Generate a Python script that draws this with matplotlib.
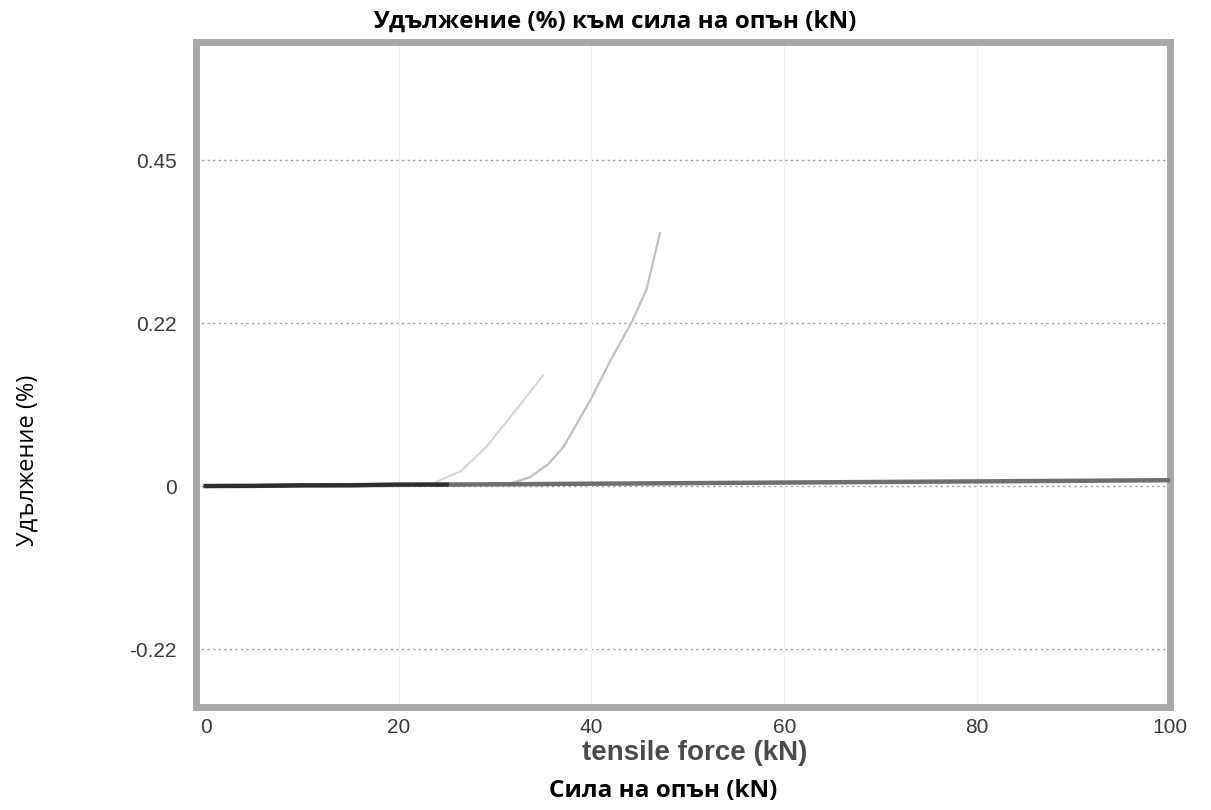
import matplotlib.pyplot as plt
import numpy as np

# data
base_x = [0, 25, 50, 75, 100]
base_y = [0.0, 0.002, 0.004, 0.006, 0.008]
early_x = [0, 5, 10, 15, 20, 25]
early_y = [0.0, 0.0, 0.001, 0.001, 0.002, 0.002]

curve1_x = [23.5, 24.6, 26.4, 29.1, 32.3, 35.0]
curve1_y = [0.003, 0.010, 0.020, 0.054, 0.107, 0.153]
curve2_x = [31.5, 33.6, 35.5, 37.1, 39.9, 42.0, 44.2, 45.7, 47.1]
curve2_y = [0.003, 0.012, 0.030, 0.054, 0.119, 0.174, 0.227, 0.271, 0.349]

xticks = [0, 20, 40, 60, 80, 100]
yticks = [-0.225, 0, 0.225, 0.45]
ytick_labels = ['-0.22', '0', '0.22', '0.45']

fig = plt.figure(figsize=(12.11, 8.10), dpi=100)
ax = fig.add_axes([0.1619, 0.1272, 0.8043, 0.821])

ax.set_xlim(-1, 100)
ax.set_ylim(-0.305, 0.613)

### grid
for yv in yticks:
    ax.axhline(yv, color='#9a9a9a', lw=1.0, ls=(0, (1.5, 2.5)), zorder=1)
for xv in xticks[1:-1]:
    ax.axvline(xv, color='#f0f0f0', lw=0.8, zorder=1)

### curves
ax.plot(curve1_x, curve1_y, color='#d4d4d4', lw=1.4, zorder=2, solid_joinstyle='round')
ax.plot(curve2_x, curve2_y, color='#c0c0c0', lw=1.6, zorder=2, solid_joinstyle='round')
ax.plot(base_x, base_y, color='#6e6e6e', lw=3.2, zorder=3)
ax.plot(early_x, early_y, color='#2e2e2e', lw=3.0, zorder=4)

ax.set_xticks(xticks)
ax.set_yticks(yticks)
ax.set_yticklabels(ytick_labels)
ax.tick_params(length=0, labelsize=15, labelcolor='#3a3a3a', pad=14)
for lab in ax.get_xticklabels() + ax.get_yticklabels():
    lab.set_family('Liberation Sans')
ax.tick_params(axis='x', pad=8)

for sp in ax.spines.values():
    sp.set_color('#a8a8a8')
    sp.set_linewidth(5)

fig.text(0.508, 0.9654, 'Удължение (%) към сила на опън (kN)', ha='center', va='baseline',
         fontsize=17.5, fontweight='bold', family='Open Sans')
fig.text(0.574, 0.062, 'tensile force (kN)', ha='center', va='baseline',
         fontsize=20, fontweight='bold', family='Liberation Sans', color='#4a4a4a')
fig.text(0.548, 0.016, 'Сила на опън (kN)', ha='center', va='baseline',
         fontsize=17.5, fontweight='bold', family='Open Sans')
fig.text(0.023, 0.432, 'Удължение (%)', ha='center', va='center', rotation=90,
         fontsize=17, family='Open Sans')

fig.savefig('out.png', dpi=100)
